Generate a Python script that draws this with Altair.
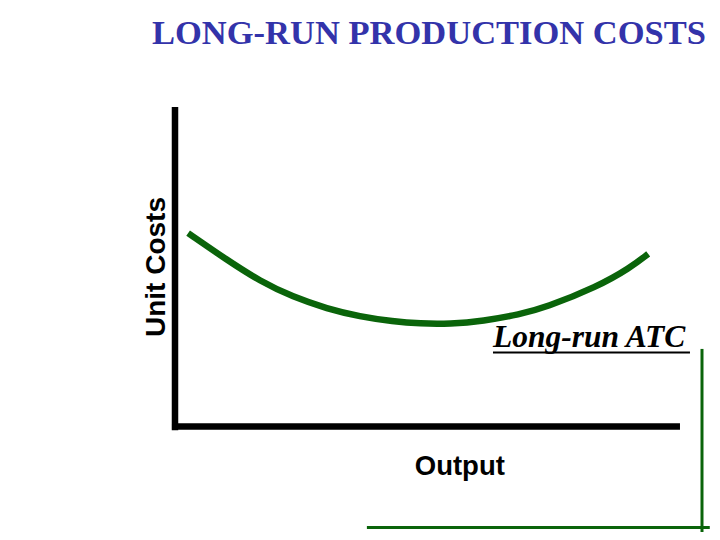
import altair as alt
import pandas as pd

# Long-run ATC curve (output vs unit cost, arbitrary units)
output = [2.6, 10.3, 16.8, 23.4, 30.1, 36.6, 43.2, 48.5, 54.5, 61.0, 68.3, 73.3, 83.6, 90.1, 93.7]
unit_cost = [60.6, 52.2, 45.6, 40.6, 37.0, 34.5, 33.0, 32.3, 32.2, 33.1, 35.2, 37.3, 43.8, 49.7, 54.1]

title_text = "LONG-RUN PRODUCTION COSTS"
y_label = "Unit Costs"
x_label = "Output"
curve_label = "Long-run ATC"

X_DOM = [-33.07, 106.34]
Y_DOM = [-32.81, 130.94]

xs = alt.Scale(domain=X_DOM, nice=False, zero=False)
ys = alt.Scale(domain=Y_DOM, nice=False, zero=False)

curve_df = pd.DataFrame({"output": output, "cost": unit_cost})

curve = alt.Chart(curve_df).mark_line(
    color="#0a640a", strokeWidth=6.5, strokeCap="butt", interpolate="basis"
).encode(
    x=alt.X("output:Q", scale=xs, axis=None),
    y=alt.Y("cost:Q", scale=ys, axis=None),
)

# axes drawn as thick black lines
axes_df = pd.DataFrame({
    "x": [0.0, -0.6], "x2": [0.0, 100.0],
    "y": [-1.0, 0.15], "y2": [100.0, 0.15],
})
axes = alt.Chart(axes_df).mark_rule(color="black", strokeWidth=6.5, strokeCap="butt").encode(
    x=alt.X("x:Q", scale=xs, axis=None), x2="x2:Q",
    y=alt.Y("y:Q", scale=ys, axis=None), y2="y2:Q",
)

# green decorative lines at lower right
deco_df = pd.DataFrame({
    "x": [104.36, 38.0], "x2": [104.36, 105.9],
    "y": [24.4, -31.4], "y2": [-32.81, -31.4],
})
deco = alt.Chart(deco_df).mark_rule(color="#0a640a", strokeWidth=3, strokeCap="butt").encode(
    x=alt.X("x:Q", scale=xs, axis=None), x2="x2:Q",
    y=alt.Y("y:Q", scale=ys, axis=None), y2="y2:Q",
)

# underline of curve label
ul_df = pd.DataFrame({"x": [62.97], "x2": [101.98], "y": [23.3]})
underline = alt.Chart(ul_df).mark_rule(color="black", strokeWidth=2).encode(
    x=alt.X("x:Q", scale=xs, axis=None), x2="x2:Q",
    y=alt.Y("y:Q", scale=ys, axis=None),
)

def label(df, **mk):
    return alt.Chart(df).mark_text(**mk).encode(
        x=alt.X("x:Q", scale=xs, axis=None),
        y=alt.Y("y:Q", scale=ys, axis=None),
        text="t:N",
    )

title = label(pd.DataFrame({"x": [50.3], "y": [119.7], "t": [title_text]}),
              font="Liberation Serif", fontWeight="bold", fontSize=34.5, color="#3333aa",
              align="center", baseline="alphabetic")
ylab = label(pd.DataFrame({"x": [-3.56], "y": [50.0], "t": [y_label]}),
             font="Liberation Sans", fontWeight="bold", fontSize=28, color="black",
             angle=270, align="center", baseline="middle")
xlab = label(pd.DataFrame({"x": [56.4], "y": [-15.0], "t": [x_label]}),
             font="Liberation Sans", fontWeight="bold", fontSize=27.5, color="black",
             align="center", baseline="alphabetic")
clab = label(pd.DataFrame({"x": [62.97], "y": [25.0], "t": [curve_label]}),
             font="Liberation Serif", fontStyle="italic", fontWeight="bold", fontSize=31.5,
             color="black", align="left", baseline="alphabetic")

chart = alt.layer(axes, curve, deco, underline, title, ylab, xlab, clab).properties(
    width=704, height=524, padding=0,
    autosize=alt.AutoSizeParams(type="none"),
    background="white",
).configure_view(stroke=None)

chart.save("out.html", embed_options={"renderer": "svg", "actions": False})
